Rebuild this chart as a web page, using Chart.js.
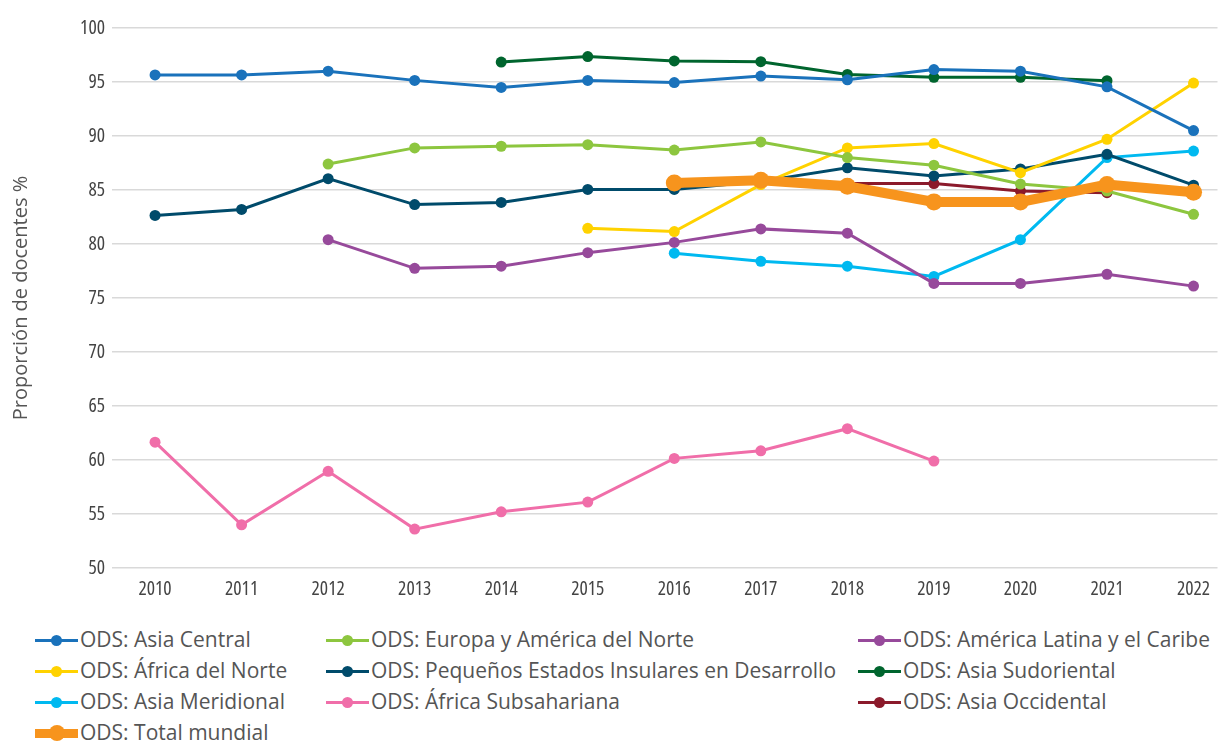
<!DOCTYPE html>
<html>
<head>
<meta charset="utf-8">
<script src="https://cdn.jsdelivr.net/npm/chart.js@4"></script>
<style>
  body { margin: 0; background: #fff; width: 1226px; height: 743px; overflow: hidden; }
  #wrap { position: absolute; left: 0; top: 0; width: 1226px; height: 605px; }
  #legend { position: absolute; left: 0; top: 624px; width: 1226px; font-family: "Open Sans", sans-serif; font-size: 21px; color: #555; }
  .item { position: absolute; height: 31px; line-height: 31px; white-space: nowrap; }
  .mark { position: absolute; left: 0; top: 16px; width: 43px; }
  .mark .ln { position: absolute; left: 0; width: 43px; }
  .mark .dot { position: absolute; border-radius: 50%; }
  .txt { position: absolute; left: 45px; top: 0; }
</style>
</head>
<body>
<div id="wrap"><canvas id="chart" width="1226" height="605"></canvas></div>
<div id="legend"></div>
<script>
// years on the x axis
const years = [2010, 2011, 2012, 2013, 2014, 2015, 2016, 2017, 2018, 2019, 2020, 2021, 2022];
const yTicks = [50, 55, 60, 65, 70, 75, 80, 85, 90, 95, 100];

// series values (%), null = no data
const asiaCentral     = [95.65, 95.65, 96.0, 95.15, 94.5, 95.15, 94.95, 95.55, 95.2, 96.15, 96.0, 94.55, 90.5];
const europaNorte     = [null, null, 87.4, 88.9, 89.05, 89.2, 88.7, 89.45, 88.0, 87.3, 85.55, 84.9, 82.75];
const americaLatina   = [null, null, 80.4, 77.75, 77.95, 79.2, 80.15, 81.4, 81.0, 76.35, 76.35, 77.2, 76.1];
const africaNorte     = [null, null, null, null, null, 81.45, 81.15, 85.5, 88.9, 89.3, 86.6, 89.7, 94.9];
const pequenosEstados = [82.65, 83.2, 86.05, 83.65, 83.85, 85.05, 85.05, 85.8, 87.05, 86.3, 86.95, 88.3, 85.45];
const asiaSudoriental = [null, null, null, null, 96.85, 97.35, 96.95, 96.88, 95.7, 95.43, 95.43, 95.12, null];
const asiaMeridional  = [null, null, null, null, null, null, 79.15, 78.4, 77.95, 77.0, 80.4, 88.0, 88.6];
const africaSub       = [61.65, 54.0, 58.95, 53.6, 55.2, 56.1, 60.15, 60.85, 62.9, 59.9, null, null, null];
const asiaOccidental  = [null, null, null, null, null, null, null, null, 85.6, 85.6, 84.9, 84.75, null];
const totalMundial    = [null, null, null, null, null, null, 85.65, 85.9, 85.35, 83.9, 83.9, 85.5, 84.8];

const series = [
  { label: "ODS: Asia Central", data: asiaCentral, color: "#1a72bb" },
  { label: "ODS: Europa y América del Norte", data: europaNorte, color: "#8dc63f" },
  { label: "ODS: América Latina y el Caribe", data: americaLatina, color: "#974a9b" },
  { label: "ODS: África del Norte", data: africaNorte, color: "#ffd200" },
  { label: "ODS: Pequeños Estados Insulares en Desarrollo", data: pequenosEstados, color: "#004b6b" },
  { label: "ODS: Asia Sudoriental", data: asiaSudoriental, color: "#00652e" },
  { label: "ODS: Asia Meridional", data: asiaMeridional, color: "#00b9f0" },
  { label: "ODS: África Subsahariana", data: africaSub, color: "#f06ea9" },
  { label: "ODS: Asia Occidental", data: asiaOccidental, color: "#8b1a2b" },
  { label: "ODS: Total mundial", data: totalMundial, color: "#f7941d", thick: true }
];

function toPoints(vals) {
  let pts = [];
  vals.forEach((v, i) => { if (v !== null) pts.push({ x: years[i], y: v }); });
  return pts;
}

const datasets = series.map(s => ({
  label: s.label,
  data: toPoints(s.data),
  borderColor: s.color,
  backgroundColor: s.color,
  borderWidth: s.thick ? 10 : 3,
  pointRadius: s.thick ? 8.5 : 5.5,
  pointBorderWidth: 0,
  pointHoverRadius: s.thick ? 8.5 : 5.5,
  tension: 0,
  order: s.thick ? -1 : 0
}));

// condensed tick labels: the canvas only knows font-stretch as a separate property,
// so switch it on whenever the tick font (marked by "cond") is set
let canvas = document.getElementById("chart");
let ctx = canvas.getContext("2d");
const fontProp = Object.getOwnPropertyDescriptor(CanvasRenderingContext2D.prototype, "font");
Object.defineProperty(ctx, "font", {
  get() { return fontProp.get.call(this); },
  set(v) {
    fontProp.set.call(this, v);
    this.fontStretch = v.indexOf("cond") >= 0 ? "condensed" : "normal";
  }
});

const tickFont = { family: "cond, 'Open Sans', sans-serif", size: 19.5 };

new Chart(ctx, {
  type: "line",
  data: { datasets: datasets },
  options: {
    responsive: false,
    animation: false,
    layout: { padding: { top: 28, right: 0, left: 0, bottom: 0 } },
    plugins: { legend: { display: false }, tooltip: { enabled: false } },
    scales: {
      x: {
        type: "linear",
        min: 2009.5025,
        max: 2022.277,
        grid: { display: false },
        border: { display: false },
        afterBuildTicks: axis => { axis.ticks = years.map(y => ({ value: y })); },
        afterFit: axis => { axis.height = 37; },
        ticks: { color: "#444", font: tickFont, padding: 2, maxRotation: 0, callback: v => String(v) }
      },
      y: {
        min: 50,
        max: 100,
        afterBuildTicks: axis => { axis.ticks = yTicks.map(v => ({ value: v })); },
        afterFit: axis => { axis.width = 112; },
        grid: { color: "#d9d9d9", lineWidth: 1.5, drawTicks: false },
        border: { display: false },
        ticks: { color: "#444", font: tickFont, padding: 7 },
        title: {
          display: true,
          text: "Proporción de docentes %",
          color: "#555",
          font: { family: "'Open Sans', sans-serif", size: 20 },
          padding: { top: 9, bottom: 0 }
        }
      }
    }
  }
});

// legend in three columns
const colX = [35, 326, 858];
const rowY = [0, 31, 62, 93];
let legend = document.getElementById("legend");
series.forEach((s, i) => {
  let item = document.createElement("div");
  item.className = "item";
  item.style.left = colX[i % 3] + "px";
  item.style.top = rowY[Math.floor(i / 3)] + "px";
  let lw = s.thick ? 9 : 3;
  let d = s.thick ? 16 : 11;
  item.innerHTML = `
    <span class="mark">
      <span class="ln" style="top:${-lw / 2}px;height:${lw}px;background:${s.color}"></span>
      <span class="dot" style="left:${21.5 - d / 2}px;top:${-d / 2}px;width:${d}px;height:${d}px;background:${s.color}"></span>
    </span>
    <span class="txt">${s.label}</span>
  `;
  legend.appendChild(item);
});
</script>
</body>
</html>
